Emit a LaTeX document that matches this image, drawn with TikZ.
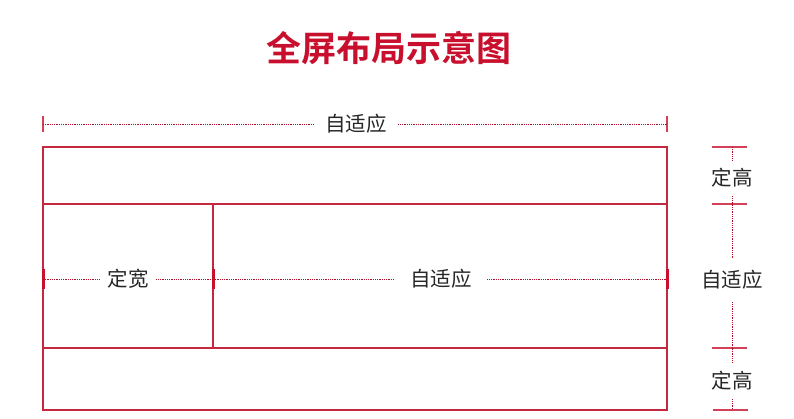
\documentclass[tikz,border=0pt]{standalone}
\usepackage{fontspec}
\newfontfamily\cjk{Noto Sans CJK SC}
\newfontfamily\cjkbold{Noto Sans CJK SC Bold}
\definecolor{crim}{HTML}{C8102E}
\definecolor{framec}{HTML}{C4283F}
\definecolor{dotc}{HTML}{B0102A}
\begin{document}
\begin{tikzpicture}[x=1pt,y=-1pt,
  frame/.style={draw=framec, line width=1.1pt},
  dimline/.style={draw=dotc, line width=0.9pt, dash pattern=on 0.9pt off 0.9pt},
  tickm/.style={draw=crim!80, line width=1.5pt},
  tickb/.style={draw=crim, line width=3pt},
  lab/.style={font=\cjk\fontsize{20.5}{20.5}\selectfont, text=black!85, inner sep=0pt, minimum height=20pt},
]
\useasboundingbox (0,0) rectangle (794,418);
% title
\node[font=\cjkbold\fontsize{35}{35}\selectfont, text=crim] (title) at (389,48) {全屏布局示意图};
% frame
\coordinate (TL) at (43,147);
\coordinate (BR) at (667,410);
\draw[frame] (TL) rectangle (BR);
\draw[frame] (43,204) -- (667,204);
\draw[frame] (43,348) -- (667,348);
\draw[frame] (213,204) -- (213,348);
% top dimension
\node[lab, minimum width=84pt] (wtop) at (356,124) {自适应};
\coordinate (wl) at (43,124);
\coordinate (wr) at (667,124);
\draw[tickm] (43,116) -- (43,132);
\draw[tickm] (667,116) -- (667,132);
\draw[dimline] (wl) -- (wtop.west);
\draw[dimline] (wtop.east) -- (wr);
% middle dimension
\node[lab, minimum width=56pt] (wfix) at (128,279) {定宽};
\node[lab, minimum width=92pt] (wauto) at (441,279) {自适应};
\coordinate (ml) at (43,279);
\coordinate (mm) at (213,279);
\coordinate (mr) at (667,279);
\draw[tickb] (43,269) -- (43,289);
\draw[tickb] (213,269) -- (213,289);
\draw[tickb] (667,269) -- (667,289);
\draw[dimline] (ml) -- (wfix.west);
\draw[dimline] (wfix.east) -- (mm);
\draw[dimline] (mm) -- (wauto.west);
\draw[dimline] (wauto.east) -- (mr);
% right dimension
\node[lab, minimum height=36pt] (hh) at (732,178) {定高};
\node[lab, minimum height=44pt] (hauto) at (732,280) {自适应};
\node[lab, minimum height=36pt] (hf) at (732,381) {定高};
\coordinate (r1) at (732,147);
\coordinate (r2) at (732,204);
\coordinate (r3) at (732,348);
\coordinate (r4) at (732,410);
\draw[tickm] (712,147) -- (747,147);
\draw[tickm] (712,204) -- (747,204);
\draw[tickm] (712,348) -- (747,348);
\draw[tickm] (713,410) -- (748,410);
\draw[dimline] (r1) -- (hh.north);
\draw[dimline] (hh.south) -- (r2) -- (hauto.north);
\draw[dimline] (hauto.south) -- (r3) -- (hf.north);
\draw[dimline] (hf.south) -- (r4);
\end{tikzpicture}
\end{document}
